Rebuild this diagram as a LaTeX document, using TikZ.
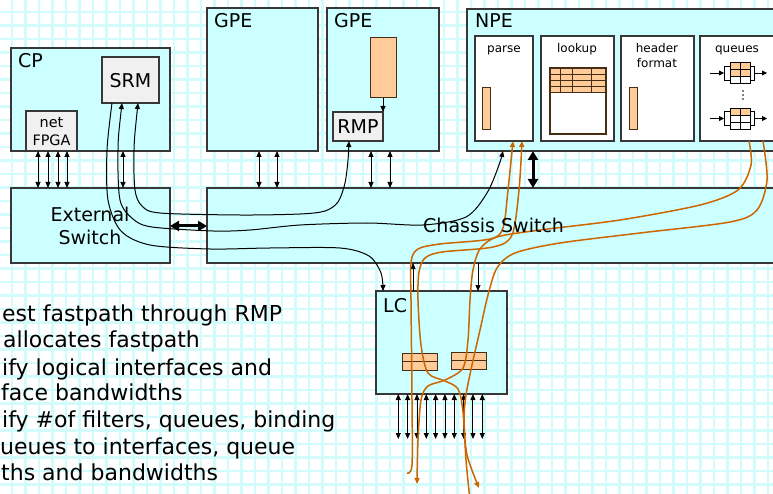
\documentclass[tikz,border=0pt]{standalone}
\usepackage{fontspec}
\setmainfont{DejaVu Sans}
\usetikzlibrary{arrows.meta}
\definecolor{gridc}{RGB}{210,252,252}
\definecolor{boxc}{RGB}{204,255,255}
\definecolor{peach}{RGB}{255,204,153}
\definecolor{orng}{RGB}{204,102,0}
\definecolor{lgray}{RGB}{240,240,240}
\definecolor{edge}{RGB}{55,55,55}
\definecolor{brn}{RGB}{70,45,20}
\tikzset{
  box/.style 2 args={anchor=north west, inner sep=0pt, outer sep=0pt, minimum width=#1, minimum height=#2},
  unit/.style={draw=edge, line width=1.3pt, fill=boxc},
  innerbox/.style={draw=edge, line width=1.2pt, fill=white},
  subbox/.style={draw=edge, line width=1.2pt, fill=lgray},
  pch/.style={draw=brn, line width=1pt, fill=peach},
  tip/.tip={Triangle[length=6pt,width=5pt]},
  bigtip/.tip={Triangle[length=9pt,width=10pt]},
  dbl/.style={line width=0.9pt, tip-tip},
  sgl/.style={line width=0.9pt, -tip},
  fat/.style={line width=3pt, bigtip-bigtip},
  kflow/.style={line width=1pt, black},
  oflow/.style={line width=1.5pt, orng},
  lbl/.style={font=\fontsize{19}{22}\selectfont, anchor=base west, inner sep=0pt},
  lblc/.style={font=\fontsize{19}{22}\selectfont, anchor=base, inner sep=0pt},
  small/.style={font=\fontsize{12}{14}\selectfont, anchor=base, inner sep=0pt},
  fpgat/.style={font=\fontsize{14.4}{16}\selectfont, anchor=base, inner sep=0pt},
  txt/.style={font=\fontsize{22}{26}\selectfont, anchor=base west, inner sep=0pt},
}
\newcommand\qicon[3]{%
\begin{scope}[shift={(#1,#2)}]
 \foreach \r in {1,2,3} {
   \pgfmathsetmacro\yy{-10.5+7*(\r-1)}
   \ifnum\r>#3 \def\fc{white}\else\def\fc{peach}\fi
   \draw[black, line width=0.8pt, fill=\fc] (-9,\yy) rectangle (11,\yy+7);
   \draw[black, line width=0.8pt] (1,\yy) -- (1,\yy+7);
 }
 \draw[black, line width=0.8pt] (-9,-7) -- (-15,-7) -- (-15,7) -- (-9,7);
 \draw[black, line width=0.8pt] (11,-7) -- (15,-7) -- (15,7) -- (11,7);
 \draw[black, line width=0.8pt, -{Triangle[length=5pt,width=5pt]}] (-29,0) -- (-15,0);
 \draw[black, line width=0.8pt, -{Triangle[length=5pt,width=5pt]}] (15,0) -- (28,0);
\end{scope}}
\begin{document}
\begin{tikzpicture}[x=1pt,y=-1pt]
\clip (0,0) rectangle (773,494);
\fill[white] (0,0) rectangle (773,494);
\foreach \i in {0,...,57} {
  \draw[gridc, line width=2.6pt] (-1.5+13.5*\i,0) -- (-1.5+13.5*\i,494);
}
\foreach \i in {0,...,37} {
  \draw[gridc, line width=2.6pt] (0,-1.5+13.5*\i) -- (773,-1.5+13.5*\i);
}

% ---- CP ----
\node[unit, box={159pt}{103pt}] (cp) at (11,48) {};
\node[lbl] (cpl) at (18,68) {CP};
\node[subbox, box={57pt}{46pt}] (srm) at (102,57) {};
\node[lblc] (srml) at (130.5,88) {SRM};
\node[subbox, box={51pt}{40pt}] (fpga) at (26,111) {};
\node[fpgat] (fpgal1) at (51.5,128) {net};
\node[fpgat] (fpgal2) at (51.5,146) {FPGA};

% ---- GPEs ----
\node[unit, box={111pt}{143pt}] (gpe1) at (207,8) {};
\node[lbl] (gpe1l) at (214,28) {GPE};
\node[unit, box={112pt}{143pt}] (gpe2) at (327,8) {};
\node[lbl] (gpe2l) at (334,28) {GPE};
\node[pch, box={26pt}{60pt}] (orect) at (370,38) {};
\node[subbox, box={50pt}{29pt}] (rmp) at (333,112) {};
\node[lblc] (rmpl) at (358,134) {RMP};

% ---- NPE ----
\node[unit, box={330pt}{142pt}] (npe) at (467,9) {};
\node[lbl] (npel) at (475,28) {NPE};
\node[innerbox, box={58pt}{105pt}] (parse) at (475,36) {};
\node[innerbox, box={73pt}{105pt}] (lookup) at (541,36) {};
\node[innerbox, box={73pt}{105pt}] (hdr) at (621,36) {};
\node[innerbox, box={90pt}{105pt}] (queues) at (700,36) {};
\node[small] (parsel) at (504,53) {parse};
\node[small] (lookupl) at (577,53) {lookup};
\node[small] (hdrl1) at (657,53) {header};
\node[small] (hdrl2) at (657,68) {format};
\node[small] (queuesl) at (737,53) {queues};
\node[pch, box={8pt}{42pt}] (pbar) at (482,88) {};
\node[pch, box={8pt}{42pt}] (hbar) at (629,88) {};
% lookup table
\node[draw=edge, line width=1.1pt, fill=white, box={56pt}{66pt}] (ltab) at (550,68) {};
\fill[peach] (550,68) rectangle (606,92);
\foreach \yy in {68,74,80,86,92} \draw[brn, line width=0.9pt] (550,\yy) -- (606,\yy);
\foreach \xx in {560,572,591} \draw[brn, line width=0.9pt] (\xx,68) -- (\xx,92);
\draw[brn, line width=1.1pt] (550,68) rectangle (606,134);
% queue icons
\qicon{739}{73}{2}
\qicon{739}{118.5}{1}
\foreach \yy in {91,95,99} \fill[black] (743,\yy) circle (0.8);

% ---- switches ----
\node[unit, box={159pt}{75pt}] (ext) at (11,188) {};
\node[lblc] (extl1) at (90,222) {External};
\node[lblc] (extl2) at (90,245) {Switch};
\node[unit, box={600pt}{75pt}] (chs) at (207,188) {};

% ---- LC ----
\node[unit, box={131pt}{103pt}] (lc) at (376,291) {};
\node[lbl] (lcl) at (383,312) {LC};
\node[pch, box={35pt}{17pt}] (buf1) at (402,353) {};
\draw[brn, line width=1pt] (buf1.west) -- (buf1.east);
\node[pch, box={35pt}{17pt}] (buf2) at (451,352) {};
\draw[brn, line width=1pt] (buf2.west) -- (buf2.east);

% ---- straight connectors ----
\foreach \xx in {38,48,58,67} \draw[dbl] (\xx,0 |- fpga.south) -- (\xx,0 |- ext.north);
\draw[dbl] (123,0 |- cp.south) -- (123,0 |- ext.north);
\foreach \xx in {259,277} \draw[dbl] (\xx,0 |- gpe1.south) -- (\xx,0 |- chs.north);
\foreach \xx in {371,390} \draw[dbl] (\xx,0 |- gpe2.south) -- (\xx,0 |- chs.north);
\draw[fat] (533,0 |- npe.south) -- (533,0 |- chs.north);
\draw[fat] (ext.east |- 0,226) -- (chs.west |- 0,226);
\draw[sgl] (383,0 |- orect.south) -- (383,0 |- rmp.north);
\draw[sgl] (413,0 |- lc.north) -- (413,0 |- chs.south);
\draw[sgl] (478,0 |- chs.south) -- (478,0 |- lc.north);
\coordinate (portend) at (0,439);
\foreach \k in {0,...,9} \draw[dbl] (398.3+9.33*\k,0 |- lc.south) -- (398.3+9.33*\k,0 |- portend);

% ---- black flows ----
\coordinate (srmA) at (112,0 |- srm.south);
\coordinate (srmB) at (122,0 |- srm.south);
\coordinate (srmC) at (138,0 |- srm.south);
\coordinate (rmpin) at (349,0 |- rmp.south);
\coordinate (parsein) at (503,0 |- npe.south);
\coordinate (lcin) at (383,0 |- lc.north);
\draw[kflow, -tip] plot[smooth] coordinates {(srmA) (107,150) (108,200) (121,231) (150,245) (210,249) (270,248) (340,248) (369,256) (381,273) (lcin)};
\draw[kflow, tip-tip] plot[smooth] coordinates {(srmB) (118,150) (120,200) (133,219) (152,227) (213,231) (250,230) (300,225) (367,223) (423,225) (466,217) (487,193) (499,165) (parsein)};
\draw[kflow, tip-tip] plot[smooth] coordinates {(srmC) (134,150) (135,190) (142,206) (160,213) (240,215) (300,214) (325,211) (338,202) (345,183) (348,160) (rmpin)};

% ---- orange flows ----
\coordinate (pin1) at (513,0 |- parse.south);
\coordinate (pin2) at (522,0 |- parse.south);
\coordinate (qout1) at (749,0 |- queues.south);
\coordinate (qout2) at (763,0 |- queues.south);
\coordinate (tail1) at (407,473);
\coordinate (tail2) at (470,500);
\coordinate (head1) at (417,484);
\coordinate (head2) at (479,488);
\draw[oflow, -tip] plot[smooth] coordinates {(tail1) (412,465) (412,400) (411,300) (411,262) (418,249) (440,244) (490,239) (503,228) (508,190) (pin1)};
\draw[oflow, -tip] plot[smooth] coordinates {(tail2) (466,460) (463,412) (458,389) (445,381) (428,373) (421,345) (418,300) (419,272) (425,258) (442,252) (493,247) (512,235) (519,190) (pin2)};
\draw[oflow, -tip] plot[smooth] coordinates {(qout1) (751,165) (738,190) (700,205) (620,220) (540,230) (497,237) (480,249) (473,270) (470,300) (468,340) (463,368) (445,380) (428,386) (421,400) (418,440) (head1)};
\draw[oflow, -tip] plot[smooth] coordinates {(qout2) (767,180) (757,210) (730,222) (640,233) (560,243) (515,253) (497,268) (488,295) (480,330) (472,365) (466,395) (464,420) (467,455) (head2)};

\node[lbl] (chsl) at (423,233) {Chassis Switch};

% ---- text ----
\node[txt] (t1) at (2,321) {est fastpath through RMP};
\node[txt] (t2) at (3,347.7) {allocates fastpath};
\node[txt] (t3) at (2,375) {ify logical interfaces and};
\node[txt] (t4) at (1,400.3) {face bandwidths};
\node[txt] (t5) at (2,427.7) {ify \#of filters, queues, binding};
\node[txt] (t6) at (0,454.3) {ueues to interfaces, queue};
\node[txt] (t7) at (1,480.3) {ths and bandwidths};
\end{tikzpicture}
\end{document}
